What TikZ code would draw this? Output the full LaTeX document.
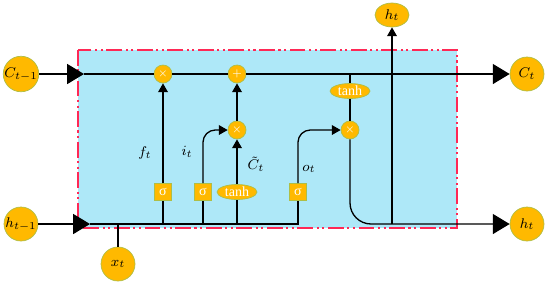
\documentclass[tikz,border=0pt]{standalone}
\usepackage{amsmath}
\usepackage{amssymb}
\usepackage{fontspec}
\setmainfont{Liberation Serif}
\usetikzlibrary{arrows.meta,shapes.geometric}
\definecolor{gateorange}{RGB}{255,185,0}
\definecolor{gateedge}{RGB}{175,190,70}
\definecolor{cellblue}{RGB}{174,232,248}
\definecolor{cellred}{RGB}{255,40,85}

\begin{document}
\begin{tikzpicture}[x=0.02cm, y=-0.02cm,
    line width=0.75pt,
    state/.style={circle, fill=gateorange, draw=gateedge, line width=0.4pt, minimum size=0.68cm, inner sep=0pt, font=\fontsize{8.5}{9}\selectfont},
    op/.style={circle, fill=gateorange, draw=gateedge, line width=0.4pt, minimum size=0.36cm, inner sep=0pt, text=white, font=\fontsize{6}{6}\selectfont},
    sig/.style={rectangle, fill=gateorange, draw=gateedge, line width=0.4pt, minimum size=0.34cm, inner sep=0pt, text=white, font=\fontsize{8}{8}\selectfont},
    act/.style={ellipse, fill=gateorange, draw=gateedge, line width=0.4pt, minimum width=0.8cm, minimum height=0.3cm, inner sep=0pt, text=white, font=\fontsize{8}{8}\selectfont},
    lbl/.style={inner sep=1pt, font=\fontsize{8.5}{9}\selectfont},
    big/.style={-{Triangle[length=9.6pt, width=11.4pt]}},
    small/.style={-{Triangle[length=5pt, width=5.5pt]}}]
    \useasboundingbox (0,0) rectangle (550,285);
    % cell
    \draw[fill=cellblue, draw=cellred, line width=0.8pt, dash pattern=on 9pt off 2pt on 1.2pt off 2pt on 1.2pt off 2pt] (78,50) rectangle (457,228);
    % states
    \node[state] (cprev) at (21,74) {$C_{t-1}$};
    \node[state] (cnext) at (527,74) {$C_t$};
    \node[state] (hprev) at (21,224) {$h_{t-1}$};
    \node[state] (hnext) at (527,224) {$h_t$};
    \node[state] (xt) at (118,264) {$x_t$};
    \node[state, ellipse, minimum width=0.68cm, minimum height=0.48cm] (hout) at (392,15) {$h_t$};
    % operations
    \node[op] (fmul) at (163,74) {$\times$};
    \node[op] (add) at (237,74) {$+$};
    \node[op] (imul) at (237,130) {$\times$};
    \node[op] (omul) at (350,130) {$\times$};
    \node[sig] (sigf) at (163,192) {σ};
    \node[sig] (sigi) at (203,192) {σ};
    \node[act] (tanhc) at (237,192) {tanh};
    \node[sig] (sigo) at (298,192) {σ};
    \node[act] (tanhh) at (350,91) {tanh};
    \coordinate (cin) at (84,74);
    \coordinate (hin) at (90,224);
    \coordinate (hsplit) at (392,224);
    % cell state line
    \draw[big] (cprev) -- (cin);
    \draw (cin) -- (fmul) -- (add);
    \draw[big] (add) -- (cnext);
    % hidden input line
    \draw[big] (hprev) -- (hin);
    \draw (hin) -- (sigo |- hin) -- (sigo);
    \draw (xt) -- (xt |- hin);
    % gates
    \draw (sigf |- hin) -- (sigf);
    \draw[small] (sigf) -- (fmul);
    \draw (sigi |- hin) -- (sigi);
    \draw[small, rounded corners=7pt] (sigi) |- (imul);
    \draw (tanhc |- hin) -- (tanhc);
    \draw[small] (tanhc) -- (imul);
    \draw[small] (imul) -- (add);
    \draw[small, rounded corners=7pt] (sigo) |- (omul);
    \draw (tanhh |- add) -- (tanhh) -- (omul);
    \draw[big, rounded corners=12pt] (omul) |- (hnext);
    \draw[small] (hsplit) -- (hout);
    % labels
    \node[lbl] (flbl) at (145,153) {$f_t$};
    \node[lbl] (ilbl) at (187,152) {$i_t$};
    \node[lbl] (clbl) at (256,164) {$\tilde{C}_t$};
    \node[lbl] (olbl) at (309,169) {$o_t$};
\end{tikzpicture}
\end{document}
